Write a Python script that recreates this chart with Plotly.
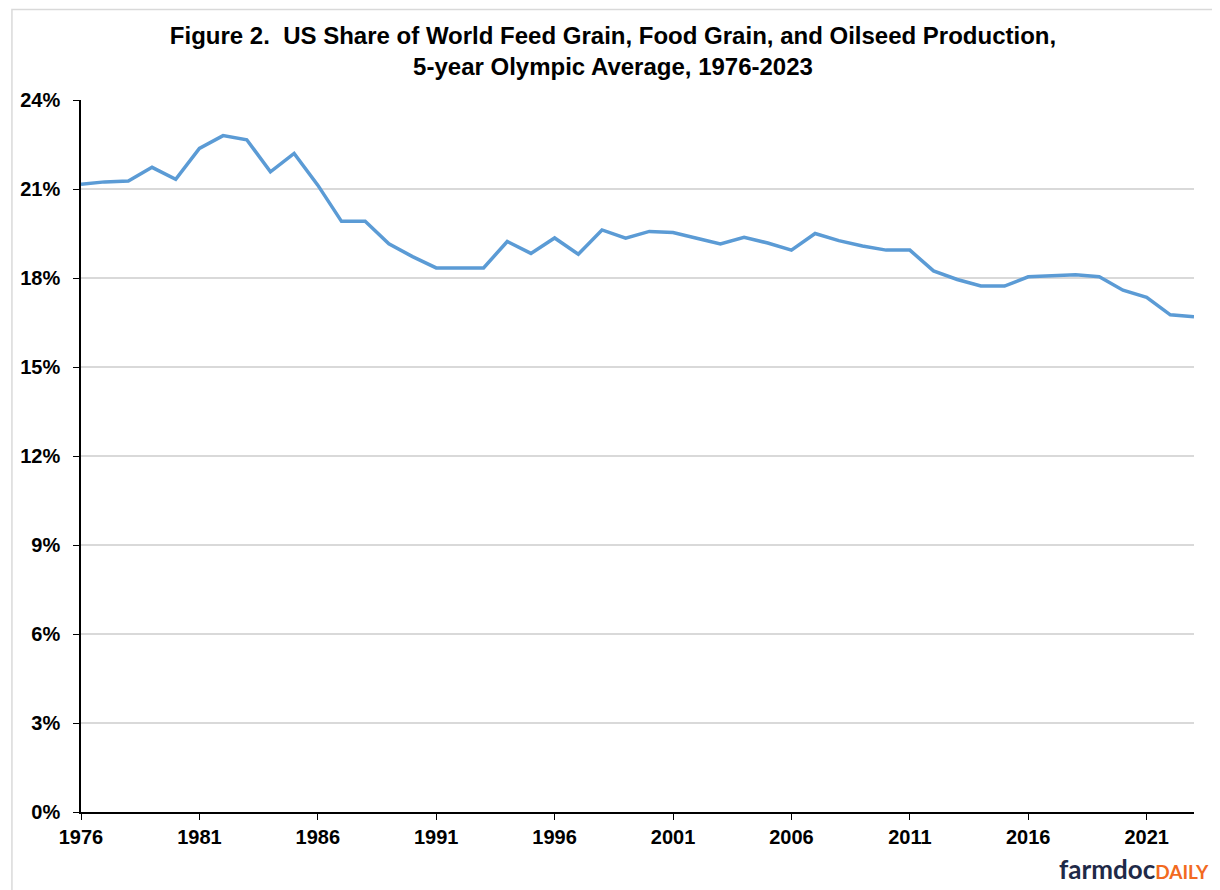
import plotly.graph_objects as go

years = list(range(1976, 2024))
us_share = [21.16, 21.24, 21.27, 21.73, 21.33, 22.37, 22.80, 22.66, 21.58, 22.20,
            21.13, 19.91, 19.91, 19.15, 18.72, 18.34, 18.34, 18.34, 19.23, 18.83,
            19.35, 18.80, 19.62, 19.34, 19.57, 19.53, 19.34, 19.15, 19.37, 19.18,
            18.94, 19.50, 19.26, 19.08, 18.94, 18.94, 18.24, 17.95, 17.73, 17.73,
            18.04, 18.08, 18.11, 18.04, 17.59, 17.35, 16.76, 16.69]
x_ticks = list(range(1976, 2022, 5))
y_ticks = [0, 3, 6, 9, 12, 15, 18, 21, 24]
y_labels = [f"{v}%" for v in y_ticks]

title_text = ("<b>Figure 2.  US Share of World Feed Grain, Food Grain, and Oilseed Production,"
              "<br>5-year Olympic Average, 1976-2023</b>")

FONT = "Liberation Sans, Arial, sans-serif"
W, H = 1220, 890
OFF = 8  # page body margin offset
L, R, T, B = 78 - OFF, 1194 - OFF, 100 - OFF, 812 - OFF
pw, ph = R - L, B - T

fig = go.Figure()
fig.add_trace(go.Scatter(x=years, y=us_share, mode="lines",
                         line=dict(color="#5b9bd5", width=3.5),
                         hoverinfo="x+y", showlegend=False))

fig.update_layout(
    width=W, height=H, autosize=False,
    margin=dict(l=L, r=W - R, t=T, b=H - B, pad=0),
    paper_bgcolor="white", plot_bgcolor="white",
    font=dict(family=FONT, color="black"),
    title=dict(text=title_text, x=605 / W, xanchor="center", xref="container",
               y=1 - 36 / H, yanchor="middle",
               font=dict(size=24, family=FONT, color="black")),
    xaxis=dict(range=[1976, 2023], tickvals=x_ticks, ticks="outside", ticklen=6,
               tickcolor="black", tickwidth=1, showline=True, linecolor="black",
               linewidth=1.5, showgrid=False, zeroline=False,
               tickfont=dict(size=20, family=FONT, color="black", weight="bold"),
               ticklabelstandoff=0, fixedrange=True),
    yaxis=dict(range=[0, 24], tickvals=y_ticks, ticktext=y_labels, ticks="outside", ticklen=6,
               tickcolor="black", tickwidth=1, showline=True, linecolor="black",
               linewidth=1.5, showgrid=True, gridcolor="#d9d9d9", gridwidth=1.5,
               zeroline=False,
               tickfont=dict(size=20, family=FONT, color="black", weight="bold"),
               ticklabelstandoff=9, fixedrange=True),
)

# outer chart border (extends beyond the visible canvas on the right/bottom)
fig.add_shape(type="rect", xref="paper", yref="paper",
              x0=(0.75 - L) / pw, x1=(W + 20 - L) / pw,
              y0=(B - (H + 20)) / ph, y1=(B - 1.5) / ph,
              line=dict(color="#d9d9d9", width=1.5), fillcolor="rgba(0,0,0,0)", layer="below")

# farmdocDAILY logo
fig.add_annotation(xref="paper", yref="paper", x=(1203 - L) / pw, y=(B - 861) / ph,
                   xanchor="right", yanchor="middle", showarrow=False,
                   text="<span style='color:#1f2a48;font-size:26px'><b>farmdoc</b></span>"
                        "<span style='color:#f26a21;font-size:19px'><b>DAILY</b></span>",
                   font=dict(family="Lato, Open Sans, sans-serif", size=26))

fig.write_html("out.html")
